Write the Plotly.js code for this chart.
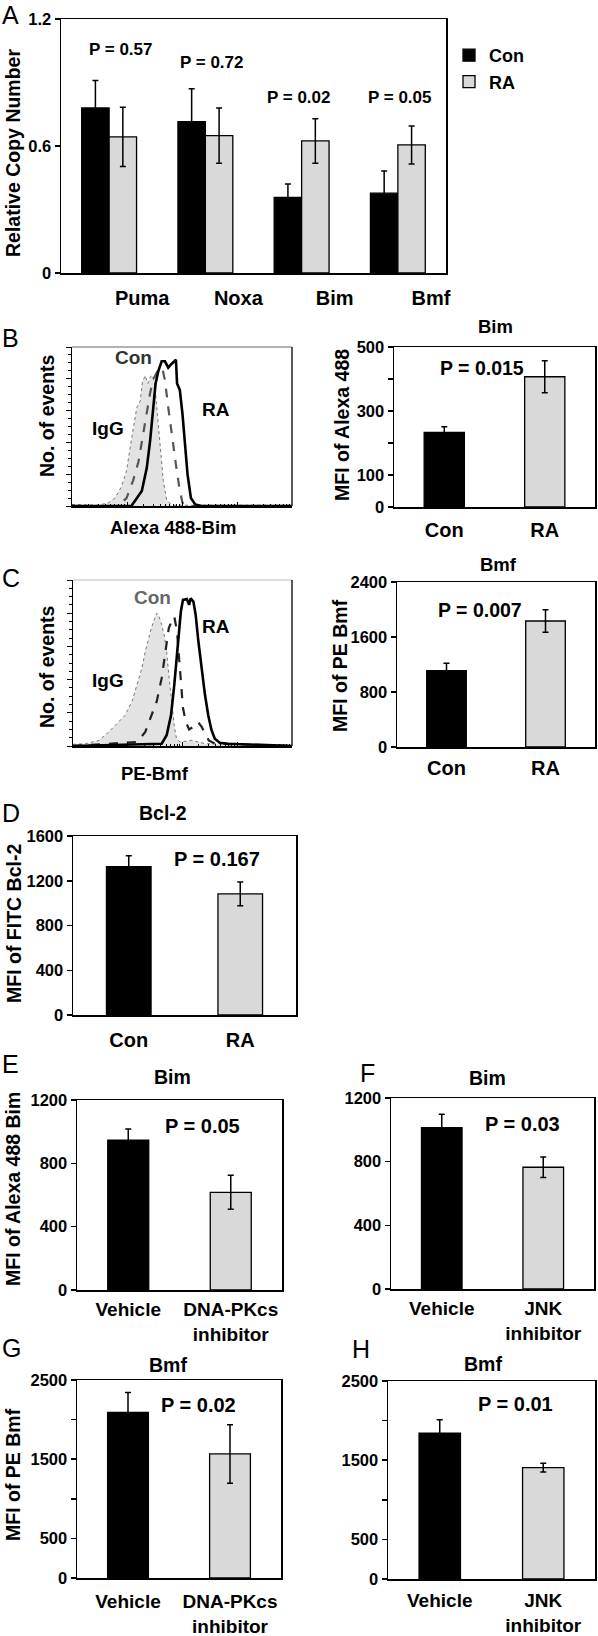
<!DOCTYPE html>
<html>
<head>
<meta charset="utf-8">
<script src="https://cdn.plot.ly/plotly-3.0.1.min.js"></script>
<style>
  html, body { margin: 0; padding: 0; background: #fff; }
  #chart { width: 598px; height: 1636px; }
</style>
</head>
<body>
<div id="chart"></div>
<script>
// ---------------- DATA ----------------
// Panel A: relative copy number (qPCR)
const genesA = ['Puma', 'Noxa', 'Bim', 'Bmf'];
const conA = [0.78, 0.715, 0.357, 0.377];
const conAErr = [0.13, 0.155, 0.063, 0.105];
const raA = [0.643, 0.649, 0.624, 0.605];
const raAErr = [0.14, 0.13, 0.105, 0.09];
const pA = ['P = 0.57', 'P = 0.72', 'P = 0.02', 'P = 0.05'];

// Two-group panels
const groupsConRA = ['Con', 'RA'];
const bimB = [233, 407];
const bimBErr = [18, 50];
const bmfC = [1110, 1833];
const bmfCErr = [107, 165];
const bcl2D = [1326, 1082];
const bcl2DErr = [98, 106];

const treatE = ['Vehicle', 'DNA-PKcs<br>inhibitor'];
const bimE = [947, 617];
const bimEErr = [70, 107];
const treatF = ['Vehicle', 'JNK<br>inhibitor'];
const bimF = [1013, 765];
const bimFErr = [85, 64];
const bmfG = [2092, 1566];
const bmfGErr = [250, 370];
const bmfH = [1840, 1405];
const bmfHErr = [170, 55];

// Flow cytometry histograms (fluorescence intensity, % of max events)
const igB_x = [1, 3.0, 4.6, 6.0, 7.9, 9.8, 11.2, 12.9, 15.1, 17.4, 19.1, 21.4, 24.0, 26.3, 28.8, 31.6, 33.9, 37.2, 41.7, 45.7, 52.5, 64.6, 10000];
const igB_y = [1, 0.5, 2, 5, 12, 22, 35, 47, 62, 66, 78, 82, 77, 81, 82, 78, 66, 54, 35, 16, 4, 0.5, 0.5];
const conB_x = [1, 6.9, 9.8, 12.9, 16.2, 19.1, 22.9, 26.3, 30.2, 36.3, 43.7, 49.0, 56.2, 64.6, 77.6, 89.1, 102, 117, 10000];
const conB_y = [0, 0, 5, 16, 28, 43, 58, 71, 80, 85, 87, 79, 62, 45, 26, 12, 2, 0, 0];
const raB_x = [1, 12.0, 18.6, 22.9, 26.3, 30.2, 33.1, 37.2, 42.7, 49.0, 56.2, 63.1, 70.8, 77.6, 81.3, 91.2, 102, 112, 126, 145, 174, 229, 10000];
const raB_y = [0, 0, 9.5, 24, 41, 62, 77, 85, 91, 91, 87, 89, 91, 92, 77, 73, 58, 39, 20, 5, 1, 0, 0];

const igC_x = [1, 1.7, 3.0, 4.5, 6.8, 8.9, 12.0, 14.8, 18.2, 20.9, 24.0, 26.9, 29.5, 33.9, 37.2, 41.7, 46.8, 51.3, 56.2, 63.1, 70.8, 77.6, 89.1, 148, 257, 10000];
const igC_y = [1, 1.4, 3.4, 8.5, 14.5, 18.5, 27, 37, 47, 57, 65, 71, 75, 80, 78, 73, 66, 57, 43, 27, 12, 4.5, 2.4, 3.4, 1.4, 0.5];
const conC_x = [1, 14.8, 20.9, 26.9, 33.9, 41.7, 46.8, 51.3, 56.2, 63.1, 70.8, 79.4, 87.1, 93.3, 102, 115, 132, 158, 191, 224, 257, 302, 389, 10000];
const conC_y = [0, 2.4, 8.5, 18.5, 27, 41, 53, 63, 71, 75, 78, 69, 53, 37, 23, 14.5, 10, 11.5, 14.5, 11.5, 7.5, 3.4, 1.4, 0];
const raC_x = [1, 41.7, 51.3, 61.7, 70.8, 77.6, 87.1, 93.3, 102, 120, 132, 141, 158, 174, 195, 224, 257, 295, 339, 389, 479, 676, 10000];
const raC_y = [0, 1.4, 6.5, 18.5, 37, 53, 69, 81, 88, 88.5, 85, 89, 87, 79, 63, 45, 31, 18.5, 9.5, 4.4, 2, 1.4, 0];

// Tick labels
const tickValsA = [0, 0.6, 1.2];
const tickTextA = ['0', '0.6', '1.2'];
const tickValsB = [0, 100, 200, 300, 400, 500];
const tickTextB = ['0', '100', '', '300', '', '500'];
const tickValsGH = [0, 500, 1000, 1500, 2000, 2500];
const tickTextGH = ['0', '500', '', '1500', '', '2500'];

// ---------------- LAYOUT HELPERS ----------------
const W = 598, H = 1636;
const FONT = 'Liberation Sans, Arial, Helvetica, sans-serif';
const BLACK = '#000000';
const GREY = '#d9d9d9';
const xd = (a, b) => [a / W, b / W];
const yd = (top, bottom) => [1 - bottom / H, 1 - top / H];

function barY(anchor, dom, extra) {
  return Object.assign({
    anchor: anchor, domain: dom, showline: true, mirror: true, linecolor: BLACK, linewidth: 1.5,
    ticks: 'outside', ticklen: 5, tickwidth: 1.5, tickcolor: BLACK, showgrid: false, zeroline: false,
    tickfont: { family: FONT, size: 16.5, weight: 'bold', color: BLACK }, fixedrange: true
  }, extra);
}
function barX(anchor, dom, extra) {
  return Object.assign({
    anchor: anchor, domain: dom, type: 'category', showline: true, mirror: true, linecolor: BLACK, linewidth: 1.5,
    ticks: '', showgrid: false, zeroline: false,
    tickfont: { family: FONT, size: 20, weight: 'bold', color: BLACK }, fixedrange: true
  }, extra);
}
function histX(anchor, dom) {
  return {
    anchor: anchor, domain: dom, type: 'log', range: [0, 4], showticklabels: false,
    ticks: 'inside', ticklen: 4, tickwidth: 1, tickcolor: BLACK, dtick: 1,
    minor: { ticks: 'inside', ticklen: 2, tickcolor: BLACK, tickwidth: 1 },
    showline: true, linecolor: BLACK, linewidth: 1.5, showgrid: false, zeroline: false, fixedrange: true
  };
}
function histY(anchor, dom) {
  return {
    anchor: anchor, domain: dom, range: [0, 100], showticklabels: false,
    ticks: 'outside', ticklen: 5, tickwidth: 1, tickcolor: BLACK, dtick: 20,
    minor: { ticks: 'outside', ticklen: 3, dtick: 5, tickcolor: BLACK, tickwidth: 1 },
    showline: true, linecolor: BLACK, linewidth: 1.5, showgrid: false, zeroline: false, fixedrange: true
  };
}
function errBar(arr) {
  return { type: 'data', array: arr, visible: true, color: BLACK, thickness: 1.5, width: 3 };
}
function pairBars(xa, ya, cats, vals, errs) {
  return {
    type: 'bar', x: cats, y: vals, xaxis: xa, yaxis: ya, width: 0.4, showlegend: false,
    marker: { color: [BLACK, GREY], line: { color: BLACK, width: 1.3 } },
    error_y: errBar(errs), hoverinfo: 'x+y'
  };
}
function histTraces(xa, ya, igx, igy, cx, cy, rx, ry, conColor) {
  return [
    { type: 'scatter', mode: 'lines', x: igx, y: igy, xaxis: xa, yaxis: ya, showlegend: false,
      fill: 'tozeroy', fillcolor: '#e3e3e3', line: { color: '#777', width: 1, dash: 'dot' } },
    { type: 'scatter', mode: 'lines', x: cx, y: cy, xaxis: xa, yaxis: ya, showlegend: false,
      line: { color: conColor, width: 2.2, dash: 'dash' } },
    { type: 'scatter', mode: 'lines', x: rx, y: ry, xaxis: xa, yaxis: ya, showlegend: false,
      line: { color: BLACK, width: 2.6 } }
  ];
}
function txt(text, xp, yp, size, opts) {
  return Object.assign({
    text: text, x: xp / W, y: 1 - yp / H, xref: 'paper', yref: 'paper', showarrow: false,
    xanchor: 'center', yanchor: 'middle',
    font: { family: FONT, size: size, color: BLACK, weight: 'bold' }
  }, opts || {});
}
function letter(t, xp, yp) {
  return txt(t, xp, yp, 25, { xanchor: 'left', font: { family: FONT, size: 25, color: BLACK, weight: 'normal' } });
}
function vtitle(t, xp, yp) {
  return txt(t, xp, yp, 19.5, { textangle: -90 });
}

// ---------------- TRACES ----------------
const traces = [
  { type: 'bar', name: 'Con', x: genesA, y: conA, xaxis: 'x', yaxis: 'y',
    marker: { color: BLACK, line: { color: BLACK, width: 1.3 } }, error_y: errBar(conAErr) },
  { type: 'bar', name: 'RA', x: genesA, y: raA, xaxis: 'x', yaxis: 'y',
    marker: { color: GREY, line: { color: BLACK, width: 1.3 } }, error_y: errBar(raAErr) },
  ...histTraces('x2', 'y2', igB_x, igB_y, conB_x, conB_y, raB_x, raB_y, '#555'),
  pairBars('x3', 'y3', groupsConRA, bimB, bimBErr),
  ...histTraces('x4', 'y4', igC_x, igC_y, conC_x, conC_y, raC_x, raC_y, '#222'),
  pairBars('x5', 'y5', groupsConRA, bmfC, bmfCErr),
  pairBars('x6', 'y6', groupsConRA, bcl2D, bcl2DErr),
  pairBars('x7', 'y7', treatE, bimE, bimEErr),
  pairBars('x8', 'y8', treatF, bimF, bimFErr),
  pairBars('x9', 'y9', treatE, bmfG, bmfGErr),
  pairBars('x10', 'y10', treatF, bmfH, bmfHErr)
];

// ---------------- ANNOTATIONS ----------------
const annotations = [
  letter('A', 0, 15), letter('B', 0, 338), letter('C', 0, 578), letter('D', 0, 813),
  letter('E', 0, 1064), letter('F', 358, 1073), letter('G', 0, 1348), letter('H', 350, 1349),
  // Panel A p-values
  txt(pA[0], 121, 50, 17), txt(pA[1], 212, 63, 17), txt(pA[2], 299, 97, 17), txt(pA[3], 400, 97, 17),
  vtitle('Relative Copy Number', 13, 153),
  // Panel B
  txt('Con', 133, 358, 19, { font: { family: FONT, size: 19, color: '#333', weight: 'bold' } }),
  txt('IgG', 108, 428, 19), txt('RA', 216, 409, 19),
  vtitle('No. of events', 47, 416),
  txt('Alexa 488-Bim', 173, 528, 18.5),
  txt('Bim', 495, 326, 18.5), txt('P = 0.015', 482, 368, 19.5),
  vtitle('MFI of Alexa 488', 342, 425),
  // Panel C
  txt('Con', 152, 597, 19, { font: { family: FONT, size: 19, color: '#666', weight: 'bold' } }),
  txt('IgG', 108, 680, 19), txt('RA', 216, 626, 19),
  vtitle('No. of events', 47, 667),
  txt('PE-Bmf', 155, 773, 18.5),
  txt('Bmf', 498, 565, 18.5), txt('P = 0.007', 480, 610, 19.5),
  vtitle('MFI of PE Bmf', 340, 666),
  // Panel D
  txt('Bcl-2', 163, 813, 19.5), txt('P = 0.167', 217, 859, 20),
  vtitle('MFI of FITC Bcl-2', 14, 924),
  // Panel E
  txt('Bim', 173, 1077, 19.5), txt('P = 0.05', 202, 1126, 20),
  vtitle('MFI of Alexa 488 Bim', 13, 1189),
  // Panel F
  txt('Bim', 487, 1078, 19.5), txt('P = 0.03', 522, 1124, 20),
  // Panel G
  txt('Bmf', 168, 1365, 19.5), txt('P = 0.02', 198, 1405, 20),
  vtitle('MFI of PE Bmf', 13, 1475),
  // Panel H
  txt('Bmf', 483, 1364, 19.5), txt('P = 0.01', 515, 1404, 20)
];

// Histogram frame (top/right edges)
const shapes = [
  { type: 'line', xref: 'x2 domain', yref: 'y2 domain', x0: 0, x1: 1, y0: 1, y1: 1, line: { color: '#666', width: 1.2 } },
  { type: 'line', xref: 'x2 domain', yref: 'y2 domain', x0: 1, x1: 1, y0: 0, y1: 1, line: { color: '#222', width: 1.5 } },
  { type: 'line', xref: 'x4 domain', yref: 'y4 domain', x0: 0, x1: 1, y0: 1, y1: 1, line: { color: '#bbb', width: 1.2 } },
  { type: 'line', xref: 'x4 domain', yref: 'y4 domain', x0: 1, x1: 1, y0: 0, y1: 1, line: { color: '#222', width: 1.5 } }
];

const twoLine = { family: FONT, size: 19, weight: 'bold', color: BLACK };

const layout = {
  width: W, height: H,
  margin: { l: 0, r: 0, t: 0, b: 0 },
  paper_bgcolor: '#fff', plot_bgcolor: '#fff',
  font: { family: FONT, color: BLACK },
  barmode: 'group', bargap: 0.43, bargroupgap: 0,
  showlegend: true,
  legend: {
    x: 449 / W, y: 1 - 37 / H, xanchor: 'left', yanchor: 'top',
    font: { family: FONT, size: 18, weight: 'bold', color: BLACK },
    bgcolor: 'rgba(0,0,0,0)', tracegroupgap: 0
  },
  // A
  xaxis: barX('y', xd(61, 446), { ticklabelshift: 33, ticklabelstandoff: 6 }),
  yaxis: barY('x', yd(19, 273), { range: [0, 1.2], tickvals: tickValsA, ticktext: tickTextA }),
  // B
  xaxis2: histX('y2', xd(72, 292)),
  yaxis2: histY('x2', yd(347, 506)),
  xaxis3: barX('y3', xd(394, 595), { ticklabelstandoff: 4 }),
  yaxis3: barY('x3', yd(347, 507), { range: [0, 500], tickvals: tickValsB, ticktext: tickTextB }),
  // C
  xaxis4: histX('y4', xd(73, 292)),
  yaxis4: histY('x4', yd(580, 746)),
  xaxis5: barX('y5', xd(397, 595), { ticklabelstandoff: 2 }),
  yaxis5: barY('x5', yd(582, 747), { range: [0, 2400], dtick: 800 }),
  // D
  xaxis6: barX('y6', xd(73, 296), { ticklabelstandoff: 6 }),
  yaxis6: barY('x6', yd(836, 1015), { range: [0, 1600], dtick: 400 }),
  // E, F
  xaxis7: barX('y7', xd(77, 282), { ticklabelstandoff: 2, tickfont: twoLine }),
  yaxis7: barY('x7', yd(1100, 1290), { range: [0, 1200], dtick: 400 }),
  xaxis8: barX('y8', xd(391, 594), { ticklabelstandoff: 2, tickfont: twoLine }),
  yaxis8: barY('x8', yd(1098, 1289), { range: [0, 1200], dtick: 400 }),
  // G, H
  xaxis9: barX('y9', xd(77, 281), { ticklabelstandoff: 6, tickfont: twoLine }),
  yaxis9: barY('x9', yd(1380, 1578), { range: [0, 2500], tickvals: tickValsGH, ticktext: tickTextGH }),
  xaxis10: barX('y10', xd(388, 595), { ticklabelstandoff: 4, tickfont: twoLine }),
  yaxis10: barY('x10', yd(1381, 1579), { range: [0, 2500], tickvals: tickValsGH, ticktext: tickTextGH }),
  annotations: annotations,
  shapes: shapes
};

Plotly.newPlot('chart', traces, layout, { staticPlot: true, displayModeBar: false });
</script>
</body>
</html>
